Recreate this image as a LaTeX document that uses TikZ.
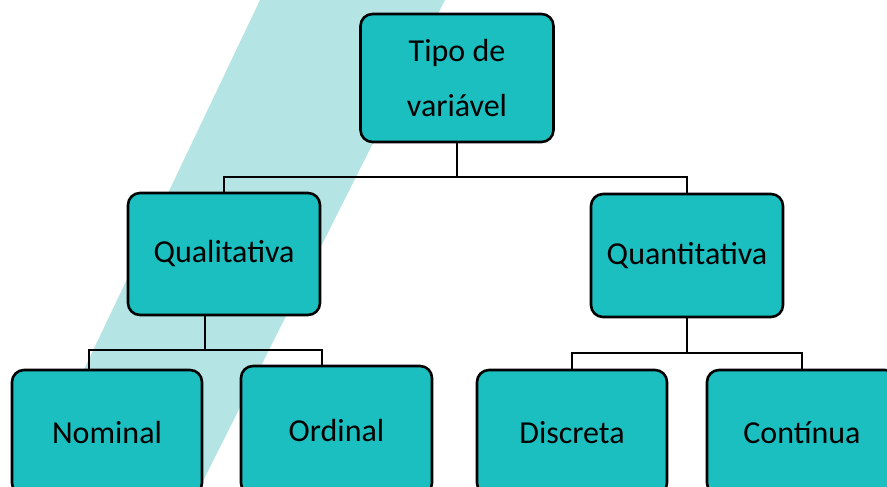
\documentclass[tikz,border=0pt]{standalone}
\usepackage{fontspec}
\setmainfont{Carlito}
\definecolor{boxteal}{RGB}{27,191,192}
\definecolor{bandteal}{RGB}{181,228,228}

\begin{document}
\begin{tikzpicture}[x=1pt,y=-1pt,
    catbox/.style={rectangle,rounded corners=12pt,draw=black,line width=2.6pt,fill=boxteal,
        inner sep=0pt,align=center,font=\fontsize{32}{55}\selectfont},
    link/.style={draw=black,line width=2pt}]
    \useasboundingbox (0,0) rectangle (887,487);
    \clip (0,0) rectangle (887,487);
    % faixa diagonal ao fundo
    \fill[bandteal] (260,0) -- (445,0) -- (200,487) -- (28,487) -- cycle;
    % caixas
    \node[catbox,minimum width=193pt,minimum height=128pt] (tipo) at (457,78) {Tipo de\\variável};
    \node[catbox,minimum width=192pt,minimum height=122pt] (quali) at (224,254) {Qualitativa};
    \node[catbox,minimum width=192pt,minimum height=123pt] (quant) at (687,255.5) {Quantitativa};
    \node[catbox,minimum width=190pt,minimum height=125pt] (nom) at (107,432.5) {Nominal};
    \node[catbox,minimum width=191pt,minimum height=129pt] (ord) at (336.5,430.5) {Ordinal};
    \node[catbox,minimum width=190pt,minimum height=125pt] (disc) at (572,432.5) {Discreta};
    \node[catbox,minimum width=190pt,minimum height=125pt] (cont) at (802,432.5) {Contínua};
    % ligacoes
    \draw[link] (tipo.south) -- ++(0,34) -| (quali.north);
    \draw[link] (tipo.south) ++(0,34) -| (quant.north);
    \draw[link] ([xshift=-19pt]quali.south) -- ++(0,34) -| ([xshift=-18pt]nom.north);
    \draw[link] ([xshift=-19pt]quali.south) ++(0,34) -| ([xshift=-14.5pt]ord.north);
    \draw[link] (quant.south) -- ++(0,35) -| (disc.north);
    \draw[link] (quant.south) ++(0,35) -| (cont.north);
\end{tikzpicture}
\end{document}
